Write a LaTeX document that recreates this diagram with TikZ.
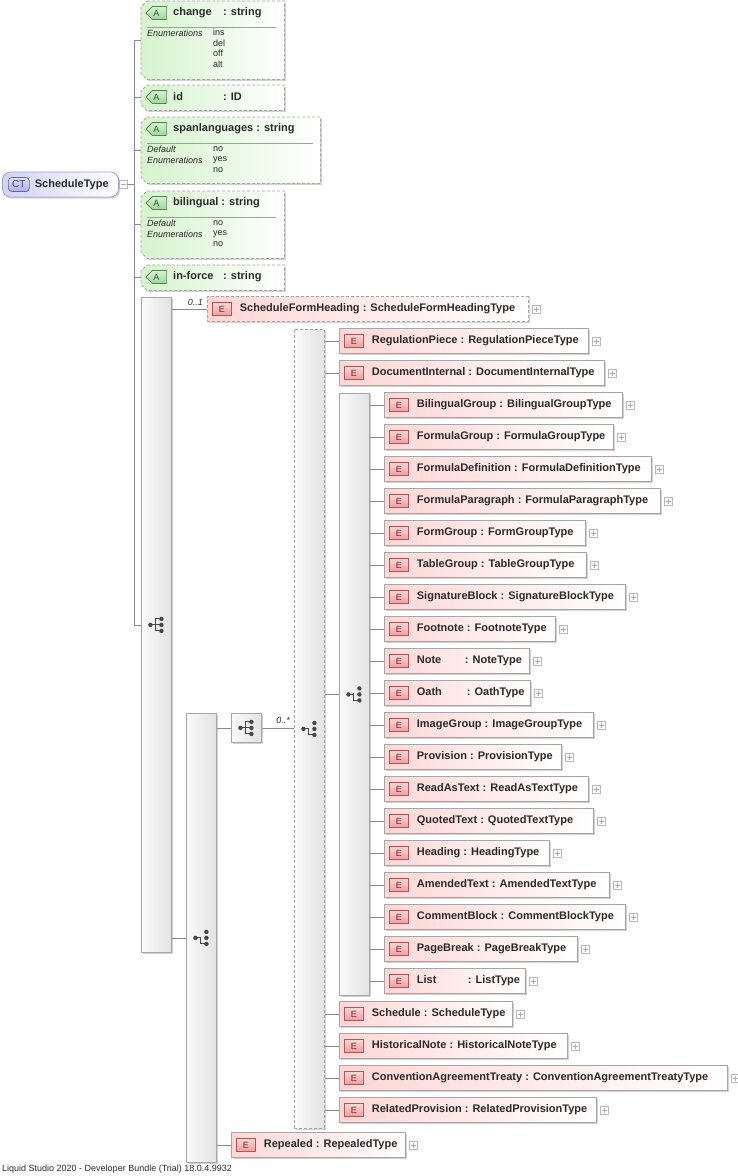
\documentclass[tikz,border=0pt]{standalone}
\usepackage{fontspec}
\setmainfont{Liberation Sans}
\usetikzlibrary{positioning,shapes.misc,shadows}

\definecolor{elemfill}{HTML}{FFD6D6}
\definecolor{ebadgefill}{HTML}{F29C9C}
\definecolor{ebadgeline}{HTML}{B05656}
\definecolor{ebadgetext}{HTML}{6A2A2A}
\definecolor{attrfill}{HTML}{D6F3CE}
\definecolor{abadgefill}{HTML}{9ED69A}
\definecolor{abadgeline}{HTML}{4C8648}
\definecolor{abadgetext}{HTML}{2C5A2A}
\definecolor{ctfill}{HTML}{D2D2F6}
\definecolor{ctbadgefill}{HTML}{AEAEEC}
\definecolor{ctline}{HTML}{6666A6}
\definecolor{boxline}{HTML}{A6A6A6}
\definecolor{connline}{HTML}{8A8A8A}
\definecolor{textdark}{HTML}{2A2A2A}

\tikzset{
  conn/.style={draw=connline, line width=0.8pt},
  boxshadow/.style={drop shadow={shadow xshift=1.5pt, shadow yshift=-1.5pt, fill=black, opacity=0.18}},
  elembox/.style={rectangle, draw=boxline, line width=0.8pt, left color=elemfill, right color=white,
    minimum height=25pt, inner sep=0pt, anchor=west, boxshadow},
  ebadge/.style={rectangle, draw=ebadgeline, line width=0.7pt, top color=ebadgefill!40!white,
    bottom color=ebadgefill, minimum width=19pt, minimum height=13pt, inner sep=0pt, anchor=west,
    font=\fontsize{9}{9}\selectfont, text=ebadgetext},
  namefont/.style={font=\fontsize{11}{13}\selectfont\bfseries, text=textdark, inner sep=0pt, anchor=west},
  plusbox/.style={rectangle, draw=boxline!80, fill=white, line width=0.6pt, minimum size=8pt,
    inner sep=0pt, anchor=west},
  plusmark/.style={draw=gray!65, line width=0.6pt},
  attrnode/.style={rectangle, inner sep=0pt, anchor=north west},
  attrbox/.style={draw=boxline, dash pattern=on 3pt off 2pt, line width=0.8pt, left color=attrfill,
    right color=white, boxshadow},
  abadge/.style={chamfered rectangle, chamfered rectangle corners={north west,south west},
    chamfered rectangle sep=3pt, draw=abadgeline, line width=0.7pt, top color=abadgefill!40!white,
    bottom color=abadgefill, minimum width=20pt, minimum height=13pt, inner sep=0pt, anchor=west,
    font=\fontsize{9}{9}\selectfont, text=abadgetext},
  sepline/.style={draw=gray!75, line width=0.7pt},
  attkey/.style={font=\fontsize{9}{10.5}\selectfont\itshape, text=textdark, align=left, inner sep=0pt, anchor=north west},
  attval/.style={font=\fontsize{9}{10.5}\selectfont, text=textdark, align=left, inner sep=0pt, anchor=north west},
  compbox/.style={rectangle, draw=boxline, line width=0.8pt, left color=gray!4, right color=gray!22,
    minimum width=30pt, inner sep=0pt, anchor=north west, boxshadow},
  mult/.style={font=\fontsize{9}{9}\selectfont\itshape, text=textdark, inner sep=0pt, anchor=south east},
  ctbox/.style={rectangle, rounded corners=8pt, draw=ctline!60, line width=0.8pt, left color=ctfill,
    right color=white, minimum width=116pt, minimum height=25pt, inner sep=0pt, anchor=west, boxshadow},
  ctbadge/.style={rectangle, rounded corners=3.5pt, draw=ctline, line width=0.7pt,
    top color=ctbadgefill!40!white, bottom color=ctbadgefill, minimum width=21pt, minimum height=14pt,
    inner sep=0pt, anchor=west, font=\fontsize{10}{10}\selectfont, text=ctline!60!black},
  symdot/.style={fill=black!72},
  symline/.style={draw=black!72, line width=1pt},
  seqsym/.pic={
    \draw[symline] (-6,0) -- (-1,0) (-1,-6) -- (-1,6) (-1,-6) -- (5,-6) (-1,6) -- (5,6) (-1,0) -- (5,0);
    \fill[symdot] (-6,0) circle (2.2pt) (5,-6) circle (2.2pt) (5,0) circle (2.2pt) (5,6) circle (2.2pt);
  },
  choicesym/.pic={
    \draw[symline] (-6,0) -- (-1,0) (-1,-1) -- (-1,6) -- (5,6);
    \fill[symdot] (-6,0) circle (2.2pt) (5,-6) circle (2.2pt) (5,0) circle (2.2pt) (5,6) circle (2.2pt);
  },
}

% element box: [style] name, left x, centre y, right x, label
\newcommand{\xsdelem}[6][]{%
  \pgfmathsetmacro{\elemw}{#5-#3}
  \node[elembox,#1,minimum width=\elemw pt] (#2) at (#3,#4) {};
  \node[ebadge] (#2-e) at ([xshift=5pt]#2.west) {E};
  \node[namefont] (#2-t) at ([xshift=8pt]#2-e.east) {#6};
  \node[plusbox] (#2-p) at ([xshift=3pt]#2.east) {};
  \draw[plusmark] ([xshift=-2.5pt]#2-p.center) -- ([xshift=2.5pt]#2-p.center)
    ([yshift=-2.5pt]#2-p.center) -- ([yshift=2.5pt]#2-p.center);
}

% attribute box: name, top y, bottom y, right x, label
\newcommand{\xsdattr}[5]{%
  \pgfmathsetmacro{\attw}{#4-141}
  \pgfmathsetmacro{\atth}{#3-#2}
  \node[attrnode, minimum width=\attw pt, minimum height=\atth pt] (#1) at (141,#2) {};
  \path[attrbox] ([xshift=6pt]#1.north west) -- (#1.north east) -- (#1.south east)
    -- ([xshift=6pt]#1.south west) -- ([yshift=6pt]#1.south west) -- ([yshift=-6pt]#1.north west) -- cycle;
  \node[abadge] (#1-a) at (146,#2+12) {A};
  \node[namefont] (#1-t) at (173,#2+12) {#5};
}

\begin{document}
\begin{tikzpicture}[x=1pt,y=-1pt]
\useasboundingbox (0,0) rectangle (737,1176);

% root
\node[ctbox] (root) at (2,184.5) {};
\node[ctbadge] (root-ct) at ([xshift=6pt]root.west) {CT};
\node[namefont] (root-t) at ([xshift=5pt]root-ct.east) {ScheduleType};
\node[plusbox] (root-m) at (root.east) {};
\draw[plusmark] ([xshift=-2.5pt]root-m.center) -- ([xshift=2.5pt]root-m.center);

% attributes
\xsdattr{chg}{1}{79}{284}{\makebox[50pt][l]{change}: string}
\draw[sepline] (147,27) -- (276,27);
\node[attkey] (chg-k) at (147,30) {Enumerations};
\node[attval] (chg-v) at (213,29) {ins\\del\\off\\alt};

\xsdattr{aid}{85}{110}{284}{\makebox[50pt][l]{id}: ID}

\xsdattr{span}{117}{183}{320}{spanlanguages : string}
\draw[sepline] (147,143) -- (313,143);
\node[attkey] (span-k) at (147,146) {Default\\Enumerations};
\node[attval] (span-v) at (213,146) {no\\yes\\no};

\xsdattr{bil}{191}{258}{284}{bilingual : string}
\draw[sepline] (147,217) -- (276,217);
\node[attkey] (bil-k) at (147,220) {Default\\Enumerations};
\node[attval] (bil-v) at (213,220) {no\\yes\\no};

\xsdattr{inf}{265}{290}{284}{\makebox[50pt][l]{in-force}: string}

% compositors
\node[compbox, minimum height=655pt] (seqa) at (141,297) {};
\pic at (seqa.center) {seqsym};
\node[compbox, minimum height=449pt] (chb) at (186,713) {};
\pic at (chb.center) {choicesym};
\node[compbox, minimum height=29pt] (sqc) at (231,713) {};
\pic at (sqc.center) {seqsym};
\node[compbox, dash pattern=on 3pt off 2pt, minimum height=799pt] (chd) at (294,329) {};
\pic at (chd.center) {choicesym};
\node[compbox, minimum height=602pt] (che) at (339,393) {};
\pic at (che.center) {choicesym};

% elements
\xsdelem[dash pattern=on 3pt off 2pt]{sfh}{207}{309}{528}{ScheduleFormHeading : ScheduleFormHeadingType}
\xsdelem{regp}{339}{341}{588}{RegulationPiece : RegulationPieceType}
\xsdelem{docint}{339}{373}{604}{DocumentInternal : DocumentInternalType}
\xsdelem{bilg}{384}{405}{622}{BilingualGroup : BilingualGroupType}
\xsdelem{formg}{384}{437}{613}{FormulaGroup : FormulaGroupType}
\xsdelem{formd}{384}{469}{651}{FormulaDefinition : FormulaDefinitionType}
\xsdelem{formp}{384}{501}{660}{FormulaParagraph : FormulaParagraphType}
\xsdelem{formgr}{384}{533}{585}{FormGroup : FormGroupType}
\xsdelem{tableg}{384}{565}{586}{TableGroup : TableGroupType}
\xsdelem{sigb}{384}{597}{625}{SignatureBlock : SignatureBlockType}
\xsdelem{footn}{384}{629}{555}{Footnote : FootnoteType}
\xsdelem{note}{384}{661}{529}{\makebox[48pt][l]{Note}: NoteType}
\xsdelem{oath}{384}{693}{530}{\makebox[50pt][l]{Oath}: OathType}
\xsdelem{imgg}{384}{725}{593}{ImageGroup : ImageGroupType}
\xsdelem{prov}{384}{757}{561}{Provision : ProvisionType}
\xsdelem{readt}{384}{789}{588}{ReadAsText : ReadAsTextType}
\xsdelem{quott}{384}{821}{593}{QuotedText : QuotedTextType}
\xsdelem{head}{384}{853}{549}{Heading : HeadingType}
\xsdelem{amend}{384}{885}{609}{AmendedText : AmendedTextType}
\xsdelem{commb}{384}{917}{625}{CommentBlock : CommentBlockType}
\xsdelem{pageb}{384}{949}{577}{PageBreak : PageBreakType}
\xsdelem{list}{384}{981}{525}{\makebox[51pt][l]{List}: ListType}
\xsdelem{sched}{339}{1014}{512}{Schedule : ScheduleType}
\xsdelem{histn}{339}{1046}{567}{HistoricalNote : HistoricalNoteType}
\xsdelem{cat}{339}{1078}{727}{ConventionAgreementTreaty : ConventionAgreementTreatyType}
\xsdelem{relp}{339}{1110}{596}{RelatedProvision : RelatedProvisionType}
\xsdelem{rep}{231}{1145}{405}{Repealed : RepealedType}

% connectors
\coordinate (spine) at ([xshift=7pt]root-m.east);
\draw[conn] (root-m.east) -- (spine);
\draw[conn] (spine |- chg.west) -- (spine |- seqa.west);
\foreach \a in {chg,aid,span,bil,inf,seqa}
  \draw[conn] (spine |- \a.west) -- (\a.west);
\draw[conn] (seqa.east |- sfh.west) -- (sfh.west);
\node[mult] (m-sfh) at ([xshift=-4pt,yshift=3pt]sfh.west) {0..1};
\draw[conn] (seqa.east |- chb.west) -- (chb.west);
\draw[conn] (chb.east |- sqc.west) -- (sqc.west);
\draw[conn] (chb.east |- rep.west) -- (rep.west);
\draw[conn] (sqc.east) -- (sqc.east -| chd.west);
\node[mult] (m-chd) at ([xshift=-4pt,yshift=5pt]chd.west) {0..*};
\foreach \e in {regp,docint,che,sched,histn,cat,relp}
  \draw[conn] (chd.east |- \e.west) -- (\e.west);
\foreach \e in {bilg,formg,formd,formp,formgr,tableg,sigb,footn,note,oath,imgg,prov,readt,quott,head,amend,commb,pageb,list}
  \draw[conn] (che.east |- \e.west) -- (\e.west);

\node[font=\fontsize{9}{10}\selectfont, text=textdark, inner sep=0pt, anchor=west] (foot) at (2,1169)
  {Liquid Studio 2020 - Developer Bundle (Trial) 18.0.4.9932};
\end{tikzpicture}
\end{document}
